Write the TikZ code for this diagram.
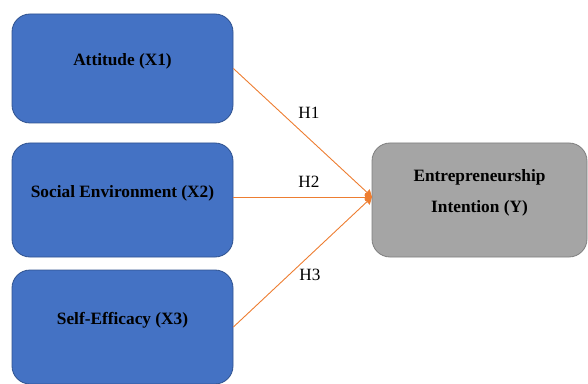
\documentclass[tikz,border=0pt]{standalone}
\usepackage{fontspec}
\setmainfont{Liberation Serif}
\usetikzlibrary{arrows.meta}
\definecolor{boxblue}{HTML}{4472C4}
\definecolor{boxblueline}{HTML}{2F528F}
\definecolor{boxgray}{HTML}{A5A5A5}
\definecolor{boxgrayline}{HTML}{7F7F7F}
\definecolor{hypline}{HTML}{ED7D31}
\tikzset{
    varbox/.style={draw=boxblueline,fill=boxblue,line width=0.8pt,rounded corners=18pt,
        minimum width=221pt,align=center,text height=12pt,text depth=17pt,
        font=\fontsize{17.3}{30}\selectfont\bfseries},
    depbox/.style={varbox,draw=boxgrayline,fill=boxgray,minimum width=215pt,
        text height=42pt,text depth=18pt},
    hyp/.style={draw=hypline,line width=0.9pt,-{Triangle[width=8pt,length=7pt]}},
    hyplabel/.style={font=\fontsize{17.2}{20}\selectfont}
}
\begin{document}
\begin{tikzpicture}[x=1pt,y=1pt]
                \useasboundingbox (0,0) rectangle (588,383);
                \node[varbox,minimum height=109pt] (att) at (122.5,314.5) {Attitude (X1)};
                \node[varbox,minimum height=114pt] (soc) at (122.5,183) {Social Environment (X2)};
                \node[varbox,minimum height=114pt] (eff) at (122.5,56) {Self-Efficacy (X3)};
                \node[depbox,minimum height=114pt] (ent) at (479.5,183) {Entrepreneurship\\Intention (Y)};
                \coordinate (tip) at (372,186);
                \draw[hyp] (att.east) -- (tip);
                \draw[hyp] (soc.east |- tip) -- (tip);
                \draw[hyp] (eff.east) -- (tip);
                \node[hyplabel] (h1) at (309,270) {H1};
                \node[hyplabel] (h2) at (309,201) {H2};
                \node[hyplabel] (h3) at (310,108) {H3};
            \end{tikzpicture}
\end{document}
